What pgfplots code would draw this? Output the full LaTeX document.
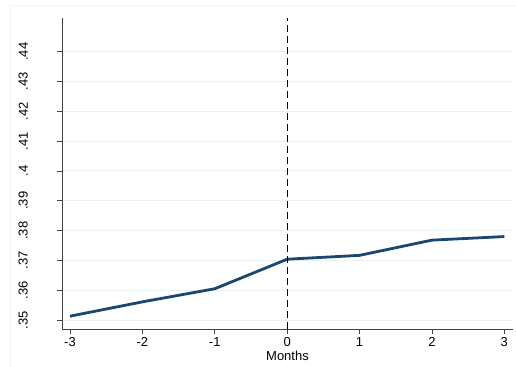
\documentclass[border=0pt]{standalone}
\usepackage{pgfplots}
\pgfplotsset{compat=1.18}
\usepackage{fontspec}
\setmainfont{Liberation Sans}
\definecolor{stnavy}{HTML}{1A476F}
\definecolor{stgrid}{HTML}{EAF2F3}
\definecolor{staxis}{HTML}{404040}
\begin{document}
\begin{tikzpicture}[x=1bp,y=1bp]
\useasboundingbox (-62,-37) rectangle (454,329);
\draw[stgrid!70!white, line width=0.8bp] (-52,-40) -- (-52,324) -- (460,324);
\begin{axis}[
  at={(0,0)}, anchor=south west,
  scale only axis, width=451bp, height=311bp,
  xmin=-3.11, xmax=3.12, ymin=0.347, ymax=0.4513,
  axis lines*=left,
  axis line style={staxis, line width=0.8bp},
  xtick={-3,-2,-1,0,1,2,3},
  xticklabels={-3,-2,-1,0,1,2,3},
  ytick={0.35,0.36,0.37,0.38,0.39,0.40,0.41,0.42,0.43,0.44},
  yticklabels={.35,.36,.37,.38,.39,.4,.41,.42,.43,.44},
  yticklabel style={xshift=-29bp, rotate=90, anchor=south, inner sep=0pt, font=\fontsize{13bp}{15bp}\selectfont},
  xticklabel style={anchor=north, inner sep=0pt, font=\fontsize{13bp}{15bp}\selectfont, yshift=-3bp},
  tick align=outside, major tick length=5bp,
  tick style={staxis, line width=0.8bp},
  ymajorgrids, grid style={stgrid, line width=1bp},
  xlabel={Months},
  xlabel style={at={(axis description cs:0.5,0)}, anchor=north, inner sep=0pt, yshift=-22bp, font=\fontsize{13bp}{15bp}\selectfont},
  clip=false,
]
\addplot[stnavy, line width=2.8bp] coordinates {
  (-3,0.3513) (-2,0.3561) (-1,0.3605) (0,0.3704) (1,0.3717) (2,0.3768) (3,0.3780)
};
\draw[black, line width=1.1bp, dash pattern=on 7bp off 4bp] (axis cs:0,0.347) -- (axis cs:0,0.4513);
\end{axis}
\end{tikzpicture}
\end{document}
